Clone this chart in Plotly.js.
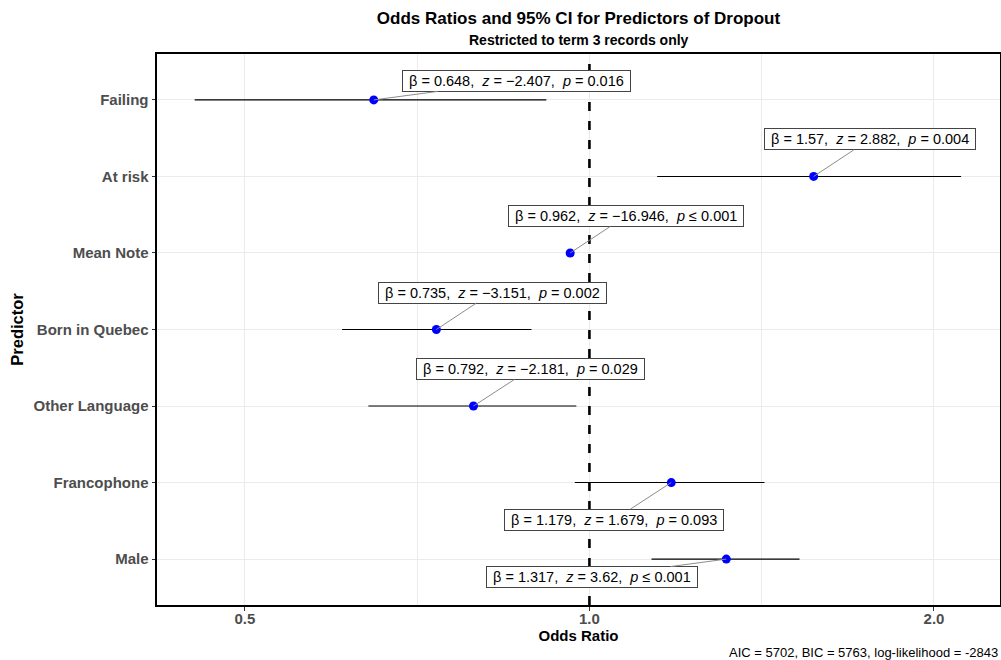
<!DOCTYPE html>
<html>
<head>
<meta charset="utf-8">
<script src="https://cdn.plot.ly/plotly-3.0.1.min.js"></script>
<style>html,body{margin:0;padding:0;background:#fff;}#chart{width:1001px;height:660px;}</style>
</head>
<body>
<div id="chart"></div>
<script>
// ---- data ----
const predictors = ["Failing", "At risk", "Mean Note", "Born in Quebec", "Other Language", "Francophone", "Male"];
const oddsRatios = [0.648, 1.57, 0.962, 0.735, 0.792, 1.179, 1.317];
const ciLow      = [0.452, 1.146, 0.957, 0.608, 0.641, 0.971, 1.133];
const ciHigh     = [0.917, 2.112, 0.967, 0.890, 0.974, 1.422, 1.526];
const zValues    = ["−2.407", "2.882", "−16.946", "−3.151", "−2.181", "1.679", "3.62"];
const pValues    = ["= 0.016", "= 0.004", "≤ 0.001", "= 0.002", "= 0.029", "= 0.093", "≤ 0.001"];
const xTickVals  = [0.5, 1, 2];
const xTickText  = ["0.5", "1.0", "2.0"];
const refValue   = 1;
const titleText  = "Odds Ratios and 95% CI for Predictors of Dropout";
const subtitle   = "Restricted to term 3 records only";
const caption    = "AIC = 5702, BIC = 5763, log-likelihood = -2843";

// ---- label placement (pixel offsets of the repelled labels) ----
const labelOffsets = [[143,-19],[56,-37],[56,-37],[56,-37],[57,-37],[-57,37],[-134,18]];

const n = predictors.length;
const yPos = predictors.map((_, i) => n - 1 - i);
const FONT = "Liberation Sans, Arial, Helvetica, sans-serif";
const NB = "\u00a0";

const traces = [];
// reference line at OR = 1 on a hidden helper axis spanning the full panel
traces.push({
  x: [refValue, refValue], y: [0, 1], yaxis: "y2", mode: "lines",
  line: {color: "#000", width: 2.6, dash: "9px,10px"}, hoverinfo: "skip", showlegend: false
});
// CI segments
predictors.forEach((p, i) => {
  traces.push({
    x: [ciLow[i], ciHigh[i]], y: [yPos[i], yPos[i]], mode: "lines",
    line: {color: "#000", width: 1.1}, hoverinfo: "skip", showlegend: false
  });
});
// points
traces.push({
  x: oddsRatios, y: yPos, mode: "markers", type: "scatter",
  marker: {color: "#0000ff", size: 9}, showlegend: false
});

const annotations = predictors.map((p, i) => ({
  x: Math.log10(oddsRatios[i]), y: yPos[i], xref: "x", yref: "y",
  text: NB + "β = " + oddsRatios[i] + ",  <i>z</i> = " + zValues[i] + ",  <i>p</i> " + pValues[i] + NB,
  showarrow: true, arrowhead: 0, arrowwidth: 1, arrowcolor: "#8c8c8c", standoff: 0,
  ax: labelOffsets[i][0], ay: labelOffsets[i][1],
  font: {family: FONT, size: 14.5, color: "#000"},
  bgcolor: "#fff", bordercolor: "#444", borderwidth: 1, borderpad: 2
}));
annotations.push({
  text: "<b>" + subtitle + "</b>", xref: "paper", yref: "paper", x: 0.5, y: 1 + 14/551,
  xanchor: "center", yanchor: "middle", showarrow: false,
  font: {family: FONT, size: 14, color: "#000"}
});
annotations.push({
  text: caption, xref: "paper", yref: "paper", x: 1, y: -0.087,
  xanchor: "right", yanchor: "middle", showarrow: false,
  font: {family: FONT, size: 13, color: "#000"}
});

const layout = {
  width: 1001, height: 660,
  margin: {l: 157, r: 1, t: 54, b: 55},
  paper_bgcolor: "#fff", plot_bgcolor: "#fff",
  font: {family: FONT},
  title: {
    text: "<b>" + titleText + "</b>",
    font: {family: FONT, size: 17, color: "#000"},
    x: 0.5, xref: "paper", xanchor: "center", y: 1 - 18/660, yref: "container", yanchor: "middle"
  },
  xaxis: {
    type: "log", range: [Math.log10(0.419), Math.log10(2.284)],
    tickmode: "array", tickvals: xTickVals, ticktext: xTickText,
    tickfont: {family: FONT, size: 15, color: "#4d4d4d", weight: "bold"},
    ticks: "outside", ticklen: 4, tickcolor: "#333", tickwidth: 1,
    ticklabelstandoff: -5,
    showgrid: true, gridcolor: "#ebebeb", gridwidth: 1,
    minor: {tickmode: "array", tickvals: [Math.SQRT1_2, Math.SQRT2], showgrid: true, gridcolor: "#ebebeb", gridwidth: 1, ticks: ""},
    showline: true, linecolor: "#000", linewidth: 2, mirror: true,
    zeroline: false,
    title: {text: "<b>Odds Ratio</b>", font: {family: FONT, size: 15, color: "#000"}, standoff: 2}
  },
  yaxis: {
    range: [-0.6, n - 1 + 0.6],
    tickmode: "array", tickvals: yPos, ticktext: predictors,
    tickfont: {family: FONT, size: 15, color: "#4d4d4d", weight: "bold"},
    ticks: "outside", ticklen: 3.5, tickcolor: "#333", tickwidth: 1,
    showgrid: true, gridcolor: "#ebebeb", gridwidth: 1,
    showline: true, linecolor: "#000", linewidth: 2, mirror: true,
    zeroline: false,
    title: {text: "<b>Predictor</b>", font: {family: FONT, size: 16.5, color: "#000"}, standoff: 6}
  },
  yaxis2: {overlaying: "y", range: [0, 1], visible: false, fixedrange: true},
  annotations: annotations,
  showlegend: false
};

Plotly.newPlot("chart", traces, layout, {displayModeBar: false, staticPlot: true});
</script>
</body>
</html>
